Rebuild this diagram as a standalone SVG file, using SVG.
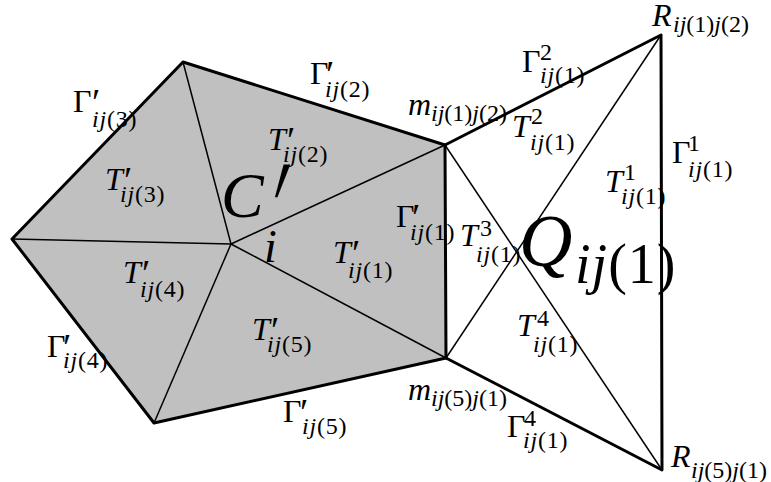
<svg xmlns="http://www.w3.org/2000/svg" width="771" height="482" viewBox="0 0 771 482">
<style>
.thick{stroke:#000;stroke-width:3;fill:none;stroke-linejoin:round;stroke-linecap:round}
.thin{stroke:#000;stroke-width:1.5;fill:none}
.b{font-size:32px}
.s{font-size:24px;letter-spacing:0.8px}
.l{font-size:24px}
.it{font-style:italic}
.p{font-size:38px}
</style>
<rect width="771" height="482" fill="#fff"/>
<g id="cell-Ci">
<polygon points="183,62 445,145 446,358 154,423 12,239" fill="#c0c0c0"/>
</g>
<g id="connectors">
<g class="thin">
<line x1="231" y1="244" x2="183" y2="62"/>
<line x1="231" y1="244" x2="12" y2="239"/>
<line x1="231" y1="244" x2="154" y2="423"/>
<line x1="231" y1="244" x2="445" y2="145"/>
<line x1="231" y1="244" x2="446" y2="358"/>
<line x1="445" y1="145" x2="662" y2="470"/>
<line x1="446" y1="358" x2="661" y2="35"/>
</g>
<polygon class="thick" points="183,62 445,145 446,358 154,423 12,239"/>
<polyline class="thick" points="445,145 661,35 662,470 446,358"/>
</g>
<g id="labels" font-family="Liberation Serif, Times New Roman, serif" fill="#000">
<text class="b" x="73" y="112">Γ</text><text class="p" x="92" y="115">′</text><text class="s" x="92" y="127"><tspan class="it">ij</tspan>(3)</text>
<text class="b it" x="105" y="190">T</text><text class="p" x="124" y="193">′</text><text class="s" x="120" y="202"><tspan class="it">ij</tspan>(3)</text>
<text class="b" x="310" y="84">Γ</text><text class="p" x="326" y="87">′</text><text class="s" x="325" y="97"><tspan class="it">ij</tspan>(2)</text>
<text class="b it" x="268" y="150">T</text><text class="p" x="287" y="153">′</text><text class="s" x="283" y="162"><tspan class="it">ij</tspan>(2)</text>
<text class="it" style="font-size:64px" x="221" y="217">C</text><text style="font-size:70px" transform="translate(259,256) skewX(-12) scale(1,2)" x="0" y="0">′</text><text class="it" style="font-size:46px" x="264" y="262">i</text>
<text class="b" x="396" y="227">Γ</text><text class="p" x="412" y="230">′</text><text class="s" x="410" y="240"><tspan class="it">ij</tspan>(1)</text>
<text class="b it" x="333" y="263">T</text><text class="p" x="352" y="266">′</text><text class="s" x="348" y="278"><tspan class="it">ij</tspan>(1)</text>
<text class="b it" x="123" y="283">T</text><text class="p" x="142" y="286">′</text><text class="s" x="140" y="297"><tspan class="it">ij</tspan>(4)</text>
<text class="b it" x="252" y="340">T</text><text class="p" x="271" y="343">′</text><text class="s" x="267" y="352"><tspan class="it">ij</tspan>(5)</text>
<text class="b" x="47" y="357">Γ</text><text class="p" x="63" y="360">′</text><text class="s" x="63" y="368"><tspan class="it">ij</tspan>(4)</text>
<text class="b" x="283" y="422">Γ</text><text class="p" x="300" y="425">′</text><text class="s" x="302" y="434"><tspan class="it">ij</tspan>(5)</text>
<text class="b it" x="408" y="115">m</text><text class="l" x="431" y="121"><tspan class="it">ij</tspan>(1)<tspan class="it">j</tspan>(2)</text>
<text class="b it" x="408" y="400">m</text><text class="l" x="431" y="406"><tspan class="it">ij</tspan>(5)<tspan class="it">j</tspan>(1)</text>
<text class="b it" x="652" y="26">R</text><text class="l" x="673" y="32"><tspan class="it">ij</tspan>(1)<tspan class="it">j</tspan>(2)</text>
<text class="b it" x="671" y="467">R</text><text class="l" x="691" y="478"><tspan class="it">ij</tspan>(5)<tspan class="it">j</tspan>(1)</text>
<text class="b" x="522" y="72">Γ</text><text class="s" x="540" y="60">2</text><text class="s" x="540" y="83"><tspan class="it">ij</tspan>(1)</text>
<text class="b it" x="512" y="137">T</text><text class="s" x="531" y="124">2</text><text class="s" x="530" y="150"><tspan class="it">ij</tspan>(1)</text>
<text class="b" x="672" y="163">Γ</text><text class="s" x="688" y="151">1</text><text class="s" x="688" y="177"><tspan class="it">ij</tspan>(1)</text>
<text class="b it" x="605" y="192">T</text><text class="s" x="624" y="180">1</text><text class="s" x="621" y="204"><tspan class="it">ij</tspan>(1)</text>
<text class="b it" x="460" y="246">T</text><text class="s" x="480" y="236">3</text><text class="s" x="476" y="262"><tspan class="it">ij</tspan>(1)</text>
<text class="b it" x="517" y="336">T</text><text class="s" x="537" y="326">4</text><text class="s" x="533" y="352"><tspan class="it">ij</tspan>(1)</text>
<text class="b" x="507" y="437">Γ</text><text class="s" x="524" y="426">4</text><text class="s" x="523" y="448"><tspan class="it">ij</tspan>(1)</text>
<text class="it" style="font-size:74px" x="519" y="266">Q</text><text style="font-size:56px;letter-spacing:1px" x="575" y="283"><tspan class="it">ij</tspan>(1)</text>
</g>
</svg>
